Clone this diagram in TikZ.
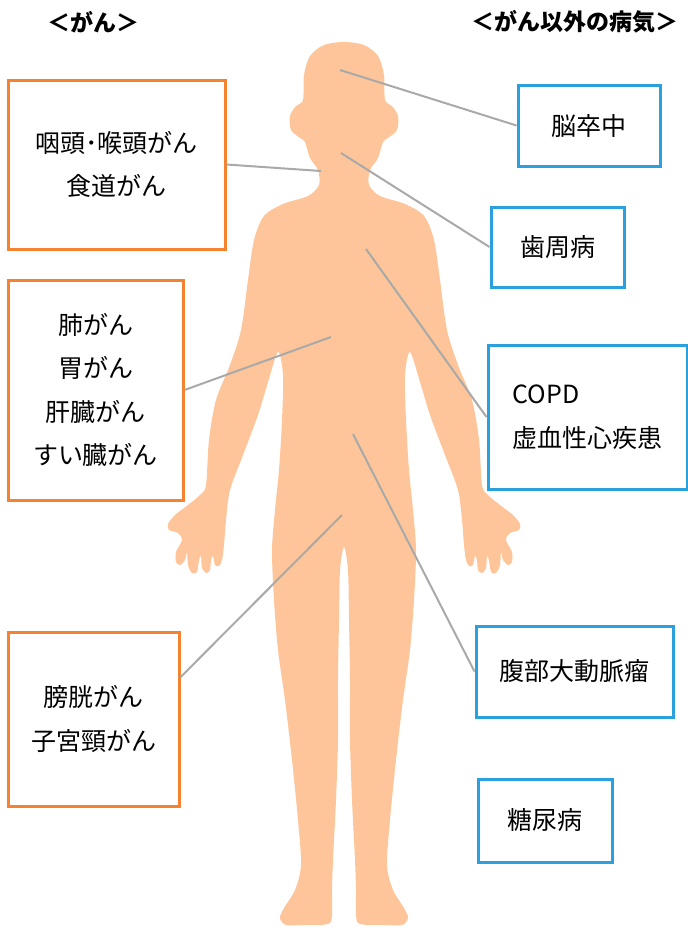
\documentclass[tikz,border=0pt]{standalone}
\usepackage{fontspec}
\usetikzlibrary{calc}
\newfontfamily\jp{Noto Sans CJK JP}
\definecolor{skin}{HTML}{FDC599}
\definecolor{cancerorange}{HTML}{F5822E}
\definecolor{otherblue}{HTML}{2AA0DC}
\definecolor{leader}{HTML}{A9A9A9}
\tikzset{
  labelbox/.style={draw, line width=3pt, align=center, inner sep=0pt,
    font=\jp\fontsize{25}{43.5}\selectfont},
  cancerbox/.style={labelbox, draw=cancerorange},
  otherbox/.style={labelbox, draw=otherblue},
  heading/.style={font=\jp\bfseries\fontsize{23}{26}\selectfont},
  leaderline/.style={draw=leader, line width=2pt},
}
\begin{document}
\begin{tikzpicture}[x=1pt,y=-1pt]
\useasboundingbox (0,0) rectangle (688,930);

% body silhouette
\fill[skin] plot[smooth cycle, tension=0.5] coordinates {
  (344,42) (364,45) (378,56) (384,75) (385,100) (392,106) (398,116) (397,130)
  (388,138) (383,142) (378,158) (370,170) (369,185) (380,196) (405,204)
  (424,216) (434,240) (440,280) (447,330) (458,365) (472,400) (479,440)
  % right hand
  (482,485) (488,495) (500,505) (513,515) (520,524) (519,530) (510,533)
  (506,540) (512,552) (512,562) (508,565) (503,560) (501,552) (500,565)
  (496,573) (491,572) (489,560) (487,556) (486,568) (482,573) (478,570)
  (477,560) (475,556) (473,565) (469,566) (466,560) (464,545) (462,520)
  (458,490)
  (445,455) (430,415) (420,382) (410,352)
  (405,375) (406,420) (409,470) (413,510) (416,550) (414,600) (410,650)
  (403,700) (396,760) (390,820) (387,865) (393,890) (404,908) (408,918)
  (402,925) (385,925) (360,924) (356,915) (356,890) (355,860) (352,800)
  (350,740) (350,680) (349,620) (348,570) (344,547)
  (340,570) (339,620) (338,680) (338,740) (336,800) (333,860) (332,890)
  (332,915) (328,924) (303,925) (286,925) (280,918) (284,908) (295,890)
  (301,865) (298,820) (292,760) (285,700) (278,650) (274,600) (272,550)
  (275,510) (279,470) (282,420) (283,375) (278,352) (268,382) (258,415)
  (243,455)
  % left hand
  (230,490) (226,520) (224,545) (222,560) (219,566) (215,565) (213,556)
  (211,560) (210,570) (206,573) (202,568) (201,556) (199,560) (197,572)
  (192,573) (188,565) (187,552) (185,560) (180,565) (176,562) (176,552)
  (182,540) (178,533) (169,530) (168,524) (175,515) (188,505) (200,495)
  (206,485)
  (209,440) (216,400) (230,365)
  (241,330) (248,280) (254,240) (264,216) (283,204) (308,196) (319,185)
  (318,170) (310,158) (305,142) (300,138) (291,130) (290,116) (296,106)
  (303,100) (304,75) (310,56) (324,45)
};

% points on the body that the labels refer to
\coordinate (head)    at (340,70);
\coordinate (chin)    at (341,153);
\coordinate (neck)    at (321,171);
\coordinate (heart)   at (366,249);
\coordinate (chest)   at (331,337);
\coordinate (abdomen) at (353,434);
\coordinate (pelvis)  at (342,515);

% headings
\node[heading] (hcancer) at (93,22) {＜がん＞};
\node[heading] (hother)  at (575,22) {＜がん以外の病気＞};

% cancers
\node[cancerbox, minimum width=217pt, minimum height=169pt] (c1) at (116.5,164.5)
  {咽頭･喉頭がん\\食道がん};
\node[cancerbox, minimum width=175pt, minimum height=220pt] (c2) at (95.5,390)
  {肺がん\\胃がん\\肝臓がん\\すい臓がん};
\node[cancerbox, minimum width=171pt, minimum height=174pt] (c3) at (93.5,719)
  {膀胱がん\\子宮頸がん};

% other diseases
\node[otherbox, minimum width=142pt, minimum height=81pt] (o1) at (589,125.5) {脳卒中};
\node[otherbox, minimum width=133pt, minimum height=80pt] (o2) at (557.5,247) {歯周病};
\node[otherbox, minimum width=199pt, minimum height=144pt, align=left] (o3) at (587.5,417)
  {COPD\\虚血性心疾患};
\node[otherbox, minimum width=197pt, minimum height=91pt] (o4) at (574.5,671.5) {腹部大動脈瘤};
\node[otherbox, minimum width=134pt, minimum height=83pt] (o5) at (545,820.5) {糖尿病};

% leader lines
\draw[leaderline] (c1.east) -- (neck);
\draw[leaderline] (c2.east) -- (chest);
\draw[leaderline] ($(c3.north east)!0.264!(c3.south east)$) -- (pelvis);
\draw[leaderline] (o1.west) -- (head);
\draw[leaderline] (o2.west) -- (chin);
\draw[leaderline] (o3.west) -- (heart);
\draw[leaderline] (o4.west) -- (abdomen);
\end{tikzpicture}
\end{document}
